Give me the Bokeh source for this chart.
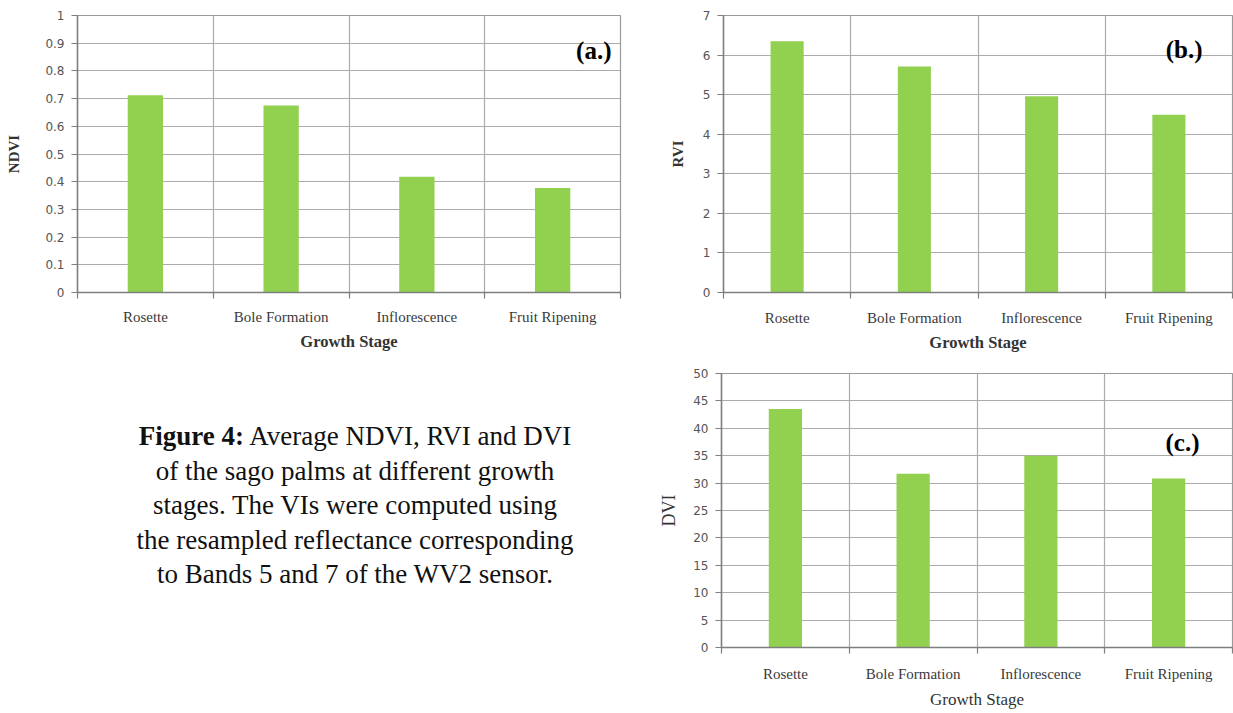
from bokeh.plotting import figure
from bokeh.models import FixedTicker, NumeralTickFormatter, Label, Div, Range1d
from bokeh.layouts import column, row
from bokeh.embed import file_html
from bokeh.resources import INLINE

# ---- data ----
stages = ["Rosette", "Bole Formation", "Inflorescence", "Fruit Ripening"]
ndvi = [0.712, 0.675, 0.418, 0.377]
rvi = [6.35, 5.71, 4.96, 4.49]
dvi = [43.5, 31.7, 35.0, 30.85]
ndvi_ticks = [0, 0.1, 0.2, 0.3, 0.4, 0.5, 0.6, 0.7, 0.8, 0.9, 1]
rvi_ticks = [0, 1, 2, 3, 4, 5, 6, 7]
dvi_ticks = [0, 5, 10, 15, 20, 25, 30, 35, 40, 45, 50]
tags = ["(a.)", "(b.)", "(c.)"]
ylabels = ["NDVI", "RVI", "DVI"]
xlabel = "Growth Stage"

BAR = "#92D050"
GRID = "#ababab"
AXIS = "#7f7f7f"
SERIF = "Liberation Serif"


def make_chart(vals, ticks, ylabel, tag, width, height, bl, br, bt, bb,
               tag_dx, tag_dy, bold_labels, ylab_size, xlab_size, ylab_standoff,
               xlab_standoff, xtick_standoff):
    ymax = ticks[-1]
    n = len(stages)
    p = figure(width=width, height=height,
               x_range=Range1d(0, n), y_range=Range1d(0, ymax),
               output_backend="svg", toolbar_location=None,
               min_border_left=bl, min_border_right=br,
               min_border_top=bt, min_border_bottom=bb)
    p.background_fill_color = "white"
    p.border_fill_color = "white"
    p.outline_line_color = "#9a9a9a"
    p.outline_line_width = 1.2

    centers = [i + 0.5 for i in range(n)]
    p.vbar(x=centers, top=vals, width=0.26, fill_color=BAR, line_color=None)

    # x axis: labels at category centres, tick marks at category boundaries
    xa = p.xaxis[0]
    xa.ticker = FixedTicker(ticks=centers, minor_ticks=list(range(n + 1)))
    xa.major_label_overrides = {c: s for c, s in zip(centers, stages)}
    xa.major_tick_line_color = None
    xa.major_tick_out = 0
    xa.minor_tick_out = 6
    xa.minor_tick_in = 0
    xa.minor_tick_line_color = AXIS
    xa.minor_tick_line_width = 1.2
    xa.axis_line_color = AXIS
    xa.axis_line_width = 1.5
    xa.major_label_text_font = SERIF
    xa.major_label_text_font_size = "15px"
    xa.major_label_text_color = "#3a3a3a"
    xa.major_label_standoff = xtick_standoff
    xa.axis_label = xlabel
    xa.axis_label_text_font = SERIF
    xa.axis_label_text_font_style = "bold" if bold_labels else "normal"
    xa.axis_label_text_font_size = xlab_size
    xa.axis_label_text_color = "#333333"
    xa.axis_label_standoff = xlab_standoff

    ya = p.yaxis[0]
    ya.ticker = FixedTicker(ticks=ticks)
    ya.formatter = NumeralTickFormatter(format="0.[0]")
    ya.major_tick_out = 6
    ya.major_tick_in = 0
    ya.major_tick_line_color = AXIS
    ya.major_tick_line_width = 1.2
    ya.minor_tick_line_color = None
    ya.axis_line_color = AXIS
    ya.axis_line_width = 1.5
    ya.major_label_text_font = "DejaVu Sans"
    ya.major_label_text_font_size = "12px"
    ya.major_label_text_color = "#555555"
    ya.major_label_standoff = 7
    ya.axis_label = ylabel
    ya.axis_label_text_font = SERIF
    ya.axis_label_text_font_style = "bold" if bold_labels else "normal"
    ya.axis_label_text_font_size = ylab_size
    ya.axis_label_text_color = "#333333"
    ya.axis_label_standoff = ylab_standoff

    p.xgrid[0].ticker = FixedTicker(ticks=list(range(1, n)))
    p.xgrid[0].grid_line_color = GRID
    p.xgrid[0].grid_line_width = 1.2
    p.ygrid[0].grid_line_color = GRID
    p.ygrid[0].grid_line_width = 1.2

    p.add_layout(Label(x=n, y=ymax, x_offset=tag_dx, y_offset=tag_dy, text=tag,
                       text_align="right", text_baseline="middle",
                       text_font=SERIF, text_font_style="bold",
                       text_font_size="25px", text_color="black"))
    return p


pa = make_chart(ndvi, ndvi_ticks, ylabels[0], tags[0], 622, 357, 77, 2, 15, 62,
                -9, -35, True, "15px", "16.5px", 20, 4, 10)
pb = make_chart(rvi, rvi_ticks, ylabels[1], tags[1], 611, 357, 101, 1, 15, 65,
                -30, -34, True, "15px", "16.5px", 14, 4, 11)
pc = make_chart(dvi, dvi_ticks, ylabels[2], tags[2], 611, 355, 99, 1, 16, 65,
                -33, -69, False, "18px", "17px", 11, 5, 12)

caption_html = (
    '<div style="margin-left:120px; margin-top:62px; width:470px; '
    'text-align:center; font-family:\'Liberation Serif\', serif; font-size:27px; '
    'line-height:34.5px; color:#111; white-space:nowrap;">'
    '<b>Figure 4:</b> Average NDVI, RVI and DVI<br>'
    'of the sago palms at different growth<br>'
    'stages. The VIs were computed using<br>'
    'the resampled reflectance corresponding<br>'
    'to Bands 5 and 7 of the WV2 sensor.'
    '</div>'
)
cap = Div(text=caption_html, width=622, height=355, margin=0)

layout = column(row(pa, pb), row(cap, pc))

open("out.html", "w").write(file_html(layout, INLINE))
